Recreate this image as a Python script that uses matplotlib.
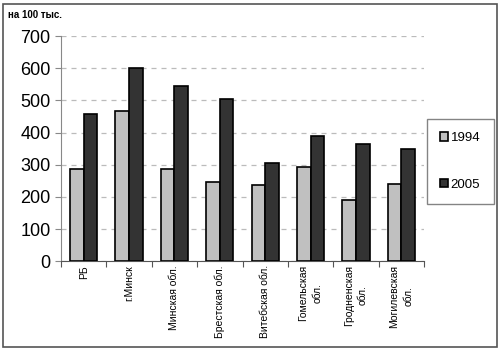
import matplotlib
matplotlib.use("Agg")
import matplotlib.pyplot as plt
import numpy as np
from matplotlib.patches import Rectangle

regions = ["РБ", "г.Минск", "Минская обл.", "Брестская обл.", "Витебская обл.",
           "Гомельская\nобл.", "Гродненская\nобл.", "Могилевская\nобл."]
v1994 = [288, 466, 288, 246, 238, 293, 190, 240]
v2005 = [457, 600, 545, 505, 306, 390, 365, 350]

plt.rcParams["font.family"] = ["Liberation Sans", "DejaVu Sans"]

fig = plt.figure(figsize=(5.0, 3.51), dpi=100)
ax = fig.add_axes([0.122, 0.256, 0.726, 0.641])

x = np.arange(len(regions))
w = 0.3
ax.bar(x - w / 2, v1994, w, color="#c0c0c0", edgecolor="black", linewidth=1.2,
       label="1994", zorder=3)
ax.bar(x + w / 2, v2005, w, color="#333333", edgecolor="black", linewidth=1.2,
       label="2005", zorder=3)

ax.set_xlim(-0.5, len(regions) - 0.5)
ax.set_ylim(0, 700)
ax.set_yticks(range(0, 701, 100))
ax.tick_params(axis="y", labelsize=13, length=4, color="#888888")
ax.set_xticks(np.arange(-0.5, len(regions), 1.0))
ax.set_xticklabels([])
ax.tick_params(axis="x", length=4, color="#555555")
for xi, lab in zip(x, regions):
    ax.text(xi, -12, lab, rotation=90, ha="center", va="top", fontsize=7.5,
            linespacing=1.5)

ax.yaxis.grid(True, linestyle=(0, (4, 4)), color="#bbbbbb", linewidth=0.9, zorder=0)
for s in ("top", "right"):
    ax.spines[s].set_visible(False)
ax.spines["left"].set_color("#888888")
ax.spines["bottom"].set_color("#555555")

leg = fig.legend(loc="upper left", bbox_to_anchor=(427 / 500, 1 - 119 / 351),
                 fontsize=9.5, frameon=True, fancybox=False, edgecolor="#666666",
                 handlelength=0.6, handleheight=0.6, labelspacing=2.6,
                 borderpad=1.0, handletextpad=0.2, borderaxespad=0)
leg.get_frame().set_linewidth(1.0)

fig.text(0.016, 0.958, "на 100 тыс.", fontsize=7, fontweight="bold", va="center")
fig.patches.append(Rectangle((0.006, 0.012), 0.988, 0.978, transform=fig.transFigure,
                             fill=False, edgecolor="#555555", linewidth=1.2))

fig.savefig("out.png", dpi=100)
